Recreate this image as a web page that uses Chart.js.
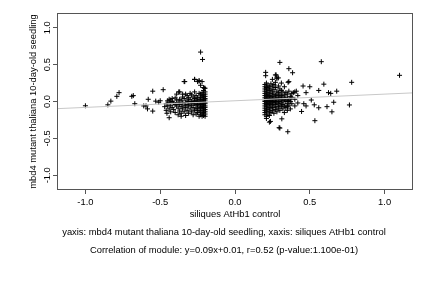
<!DOCTYPE html>
<html>
<head>
<meta charset="utf-8">
<script src="https://cdn.jsdelivr.net/npm/chart.js@4"></script>
<style>
html, body { margin: 0; padding: 0; background: #fff; }
</style>
</head>
<body>
<canvas id="scatterChart" width="432" height="288"></canvas>
<script>
// axis ticks
const xTicks = [-1.0, -0.5, 0.0, 0.5, 1.0];
const yTicks = [-1.0, -0.5, 0.0, 0.5, 1.0];

// fit reported in the caption
const fitSlope = 0.09;
const fitIntercept = 0.01;

// dense block left of zero: one x per column, y values in that column
const leftColX = [-0.20, -0.21, -0.22, -0.23, -0.24, -0.25, -0.26, -0.27, -0.28, -0.29, -0.30, -0.31, -0.32, -0.33,
                  -0.34, -0.35, -0.36, -0.37, -0.38, -0.39, -0.40, -0.41, -0.42, -0.43, -0.44, -0.45, -0.46];
const leftColY = [
    [-0.20, -0.17, -0.14, -0.11, -0.08, -0.06, -0.03, -0.01, 0.02, 0.04, 0.07, 0.10, 0.13, 0.18],
    [-0.19, -0.15, -0.12, -0.09, -0.05, -0.02, 0.01, 0.03, 0.06, 0.09, 0.15, 0.19],
    [-0.20, -0.16, -0.10, -0.07, -0.04, 0.00, 0.05, 0.08, 0.12, 0.27],
    [-0.18, -0.13, -0.08, -0.03, 0.02, 0.06, 0.10, 0.22],
    [-0.20, -0.12, -0.06, -0.01, 0.03, 0.11, 0.28],
    [-0.15, -0.09, -0.04, 0.00, 0.05, 0.27],
    [-0.17, -0.10, -0.05, 0.02, 0.08],
    [-0.12, -0.03, 0.01, 0.04, 0.13, 0.30],
    [-0.18, -0.08, -0.02, 0.06],
    [-0.14, -0.05, 0.00, 0.09],
    [-0.10, -0.03, 0.03, 0.11],
    [-0.16, -0.06, 0.00, 0.05],
    [-0.12, -0.04, 0.02, 0.08],
    [-0.19, -0.08, -0.01, 0.10],
    [-0.14, -0.05, 0.04, 0.27],
    [-0.10, -0.02, 0.06, 0.10],
    [-0.16, -0.07, 0.01, -0.20],
    [-0.13, -0.04, 0.03, 0.13],
    [-0.18, -0.09, -0.01],
    [-0.06, 0.02, 0.10],
    [-0.15, -0.04, 0.05],
    [-0.11, -0.02],
    [-0.08, 0.00, 0.04],
    [-0.14, -0.05, 0.02],
    [-0.10, -0.01, 0.03],
    [-0.06, 0.01],
    [-0.12, -0.03]
];

// dense block right of zero
const rightColX = [0.20, 0.21, 0.22, 0.23, 0.24, 0.25, 0.26, 0.27, 0.28, 0.29, 0.30, 0.31, 0.32, 0.33,
                   0.34, 0.35, 0.36, 0.37, 0.38, 0.40, 0.42];
const rightColY = [
    [-0.18, -0.15, -0.12, -0.09, -0.06, -0.03, 0.00, 0.02, 0.05, 0.08, 0.11, 0.14, 0.17, 0.20, 0.23],
    [-0.20, -0.14, -0.10, -0.07, -0.04, -0.01, 0.01, 0.04, 0.07, 0.10, 0.13, 0.16, 0.19, 0.25],
    [-0.17, -0.11, -0.05, -0.02, 0.00, 0.03, 0.06, 0.09, 0.12, 0.18, 0.22],
    [-0.19, -0.13, -0.08, -0.03, 0.01, 0.04, 0.08, 0.15, 0.20],
    [-0.15, -0.09, -0.04, 0.00, 0.02, 0.06, 0.11, 0.17, 0.24],
    [-0.12, -0.06, -0.01, 0.03, 0.07, 0.13, 0.21, 0.30],
    [-0.16, -0.08, -0.02, 0.01, 0.05, 0.10, 0.16, 0.23],
    [-0.11, -0.04, 0.00, 0.04, 0.09, 0.19, 0.26, 0.36],
    [-0.14, -0.07, -0.01, 0.03, 0.08, 0.14, 0.31, 0.33],
    [-0.09, -0.03, 0.02, 0.06, 0.12, 0.21],
    [-0.12, -0.05, 0.00, 0.05, 0.10, 0.17],
    [-0.07, -0.02, 0.03, 0.08, 0.15, 0.25],
    [-0.10, -0.04, 0.01, 0.06, 0.13],
    [-0.15, -0.06, 0.02, 0.09, 0.20],
    [-0.08, 0.00, 0.05, 0.12],
    [-0.12, -0.03, 0.04, 0.10],
    [-0.05, 0.02, 0.14, 0.27],
    [-0.10, 0.00, 0.07],
    [-0.03, 0.05, 0.11],
    [-0.06, 0.03, 0.13],
    [-0.02, 0.08]
];

// scattered points outside the blocks
const sparseX = [-1.00, -0.85, -0.83, -0.79, -0.775, -0.69, -0.68, -0.67, -0.61, -0.595, -0.585, -0.58, -0.55, -0.55,
                 -0.53, -0.51, -0.50, -0.48, -0.47, -0.455, -0.44, -0.376, -0.336, -0.27, -0.24, -0.23, -0.217, -0.205,
                 0.205, 0.205, 0.21, 0.23, 0.237, 0.275, 0.29, 0.295, 0.30, 0.30, 0.313, 0.35, 0.353, 0.355, 0.36, 0.36,
                 0.375, 0.385, 0.39, 0.41, 0.445, 0.455, 0.46, 0.475, 0.475, 0.50, 0.51, 0.53, 0.534, 0.56, 0.56,
                 0.577, 0.594, 0.615, 0.625, 0.64, 0.648, 0.66, 0.68, 0.765, 0.78, 1.10];
const sparseY = [-0.058, -0.045, 0.005, 0.07, 0.12, 0.07, 0.08, -0.03, -0.06, -0.06, -0.10, 0.03, 0.14, -0.13,
                 0.005, -0.01, 0.01, 0.16, -0.07, -0.16, -0.22, 0.13, 0.27, 0.30, 0.28, 0.67, 0.57, 0.18,
                 0.395, 0.35, -0.23, -0.28, -0.27, 0.36, 0.32, -0.355, 0.53, -0.36, -0.235, -0.07, -0.41, 0.26, 0.445, 0.01,
                 0.06, 0.39, 0.12, 0.14, -0.135, 0.21, -0.03, -0.06, 0.12, 0.20, 0.02, -0.045, -0.26, -0.085, 0.15,
                 0.54, 0.235, -0.07, 0.12, 0.11, -0.14, -0.01, 0.14, -0.047, 0.26, 0.355];

const axisTitleX = 'siliques AtHb1 control';
const axisTitleY = 'mbd4 mutant thaliana 10-day-old seedling';
const captionLines = [
    'yaxis: mbd4 mutant thaliana 10-day-old seedling, xaxis: siliques AtHb1 control',
    'Correlation of module: y=0.09x+0.01, r=0.52 (p-value:1.100e-01)'
];

const xMin = -1.19, xMax = 1.19;
const yMin = -1.2, yMax = 1.2;
const fontFamily = '"Liberation Sans", Arial, Helvetica, sans-serif';
const fontSize = 9.4;

// build the point list from the arrays above
const points = [];
leftColX.forEach((x, i) => leftColY[i].forEach(y => points.push({ x: x, y: y })));
rightColX.forEach((x, i) => rightColY[i].forEach(y => points.push({ x: x, y: y })));
sparseX.forEach((x, i) => points.push({ x: x, y: sparseY[i] }));

const fitLine = [
    { x: xMin, y: fitSlope * xMin + fitIntercept },
    { x: xMax, y: fitSlope * xMax + fitIntercept }
];

// box around the plot, rotated y tick labels and the two caption lines
const frameAndText = {
    id: 'frameAndText',
    afterDraw(chart) {
        const { ctx, chartArea: a, scales } = chart;
        ctx.save();
        ctx.strokeStyle = '#555';
        ctx.lineWidth = 1;
        ctx.strokeRect(a.left + 0.5, a.top + 0.5, a.right - a.left - 1, a.bottom - a.top - 1);
        ctx.fillStyle = '#000';
        ctx.font = fontSize + 'px ' + fontFamily;
        ctx.textAlign = 'center';
        ctx.textBaseline = 'middle';
        yTicks.forEach(v => {
            const py = scales.y.getPixelForValue(v);
            ctx.save();
            ctx.translate(47, py);
            ctx.rotate(-Math.PI / 2);
            ctx.fillText(v.toFixed(1), 0, 0);
            ctx.restore();
        });
        captionLines.forEach((t, i) => ctx.fillText(t, 224, 232.5 + i * 17.5));
        ctx.restore();
    }
};

new Chart(document.getElementById('scatterChart'), {
    type: 'scatter',
    data: {
        datasets: [{
            type: 'line',
            data: fitLine,
            borderColor: '#c8c8c8',
            borderWidth: 1,
            pointRadius: 0,
            order: 0
        }, {
            data: points,
            pointStyle: 'cross',
            pointRadius: 2.5,
            borderColor: '#000',
            borderWidth: 1,
            order: 1
        }]
    },
    options: {
        responsive: false,
        animation: false,
        layout: { padding: { left: 0, right: 19, top: 13, bottom: 68 } },
        plugins: {
            legend: { display: false },
            tooltip: { enabled: false }
        },
        scales: {
            x: {
                type: 'linear',
                min: xMin,
                max: xMax,
                afterBuildTicks: s => { s.ticks = xTicks.map(v => ({ value: v })); },
                afterFit: s => { s.height = 30; },
                ticks: {
                    autoSkip: false,
                    maxRotation: 0,
                    padding: 3,
                    color: '#000',
                    font: { family: fontFamily, size: fontSize },
                    callback: v => v.toFixed(1)
                },
                grid: { drawOnChartArea: false, tickLength: 4, color: '#555' },
                border: { display: false },
                title: {
                    display: true,
                    text: axisTitleX,
                    color: '#000',
                    font: { family: fontFamily, size: fontSize },
                    padding: { top: 0, bottom: 0 }
                }
            },
            y: {
                type: 'linear',
                min: yMin,
                max: yMax,
                afterBuildTicks: s => { s.ticks = yTicks.map(v => ({ value: v })); },
                afterFit: s => { s.width = 57; },
                ticks: { display: false },
                grid: { drawOnChartArea: false, tickLength: 4, color: '#555' },
                border: { display: false },
                title: {
                    display: true,
                    text: axisTitleY,
                    color: '#000',
                    font: { family: fontFamily, size: fontSize },
                    padding: { top: 28, bottom: 0 }
                }
            }
        }
    },
    plugins: [frameAndText]
});
</script>
</body>
</html>
